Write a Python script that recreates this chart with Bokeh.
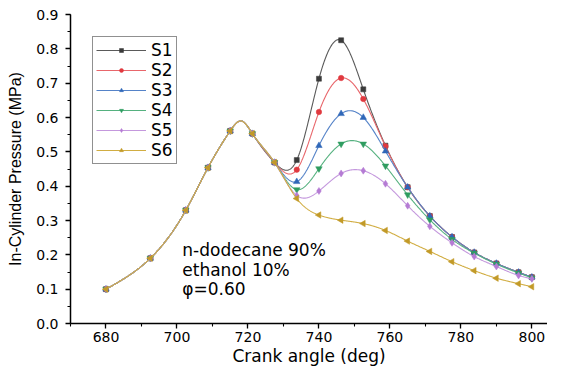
import math
import numpy as np
from bokeh.plotting import figure
from bokeh.models import (Range1d, SingleIntervalTicker, NumeralTickFormatter,
                          Label, Legend, LegendItem)
from bokeh.embed import file_html
from bokeh.resources import INLINE

# ---- data ----
crank_angle = [680, 692.5, 702.5, 708.75, 715, 721.25, 727.5, 733.75, 740, 746.25,
               752.5, 758.75, 765, 771.25, 777.5, 783.75, 790, 796.25, 800]
s1 = [0.10, 0.19, 0.33, 0.454, 0.561, 0.553, 0.469, 0.476, 0.713, 0.825,
      0.682, 0.518, 0.397, 0.313, 0.252, 0.207, 0.175, 0.149, 0.135]
s2 = [0.10, 0.19, 0.33, 0.454, 0.561, 0.553, 0.469, 0.448, 0.616, 0.715,
      0.654, 0.516, 0.397, 0.313, 0.252, 0.207, 0.175, 0.149, 0.135]
s3 = [0.10, 0.19, 0.33, 0.454, 0.561, 0.553, 0.469, 0.413, 0.518, 0.611,
      0.600, 0.502, 0.397, 0.313, 0.252, 0.207, 0.175, 0.149, 0.135]
s4 = [0.10, 0.19, 0.33, 0.454, 0.561, 0.553, 0.469, 0.390, 0.451, 0.523,
      0.523, 0.459, 0.375, 0.302, 0.245, 0.205, 0.173, 0.147, 0.133]
s5 = [0.10, 0.19, 0.33, 0.454, 0.561, 0.553, 0.469, 0.373, 0.386, 0.437,
      0.445, 0.407, 0.343, 0.283, 0.235, 0.195, 0.166, 0.140, 0.130]
s6 = [0.10, 0.19, 0.33, 0.454, 0.561, 0.553, 0.469, 0.364, 0.316, 0.301,
      0.291, 0.271, 0.240, 0.210, 0.180, 0.154, 0.132, 0.116, 0.107]
# compression peak of the curves (no marker there)
peak_angle = 718.1
peak_pressure = 0.590
series_names = ["S1", "S2", "S3", "S4", "S5", "S6"]
series_values = [s1, s2, s3, s4, s5, s6]
annotation_lines = ["n-dodecane 90%", "ethanol 10%", "φ=0.60"]
annotation_y = [0.213, 0.157, 0.100]
annotation_x = 701.5

# ---- styles ----
line_colors = ["#5a5a5a", "#e8666b", "#5583c8", "#55b17f", "#c498dd", "#d1ad42"]
marker_colors = ["#3a3a3a", "#e0393f", "#2f67b8", "#2f9d60", "#b57bd4", "#c29a28"]
markers = ["square", "circle", "triangle", "inverted_triangle", "diamond", "triangle"]
marker_sizes = [5, 5.5, 6.5, 6.5, 7, 6.5]
marker_angles = [0, 0, 0, 0, 0, math.pi / 2]
FONT = "DejaVu Sans"


def spline_line(x, y, n=900):
    """Natural cubic spline used only to draw the smooth connecting line."""
    x = np.asarray(x, float)
    y = np.asarray(y, float)
    k = len(x)
    h = np.diff(x)
    A = np.zeros((k, k))
    b = np.zeros(k)
    A[0, 0] = A[-1, -1] = 1.0
    for i in range(1, k - 1):
        A[i, i - 1] = h[i - 1]
        A[i, i] = 2 * (h[i - 1] + h[i])
        A[i, i + 1] = h[i]
        b[i] = 6 * ((y[i + 1] - y[i]) / h[i] - (y[i] - y[i - 1]) / h[i - 1])
    M = np.linalg.solve(A, b)
    t = np.linspace(x[0], x[-1], n)
    idx = np.clip(np.searchsorted(x, t) - 1, 0, k - 2)
    x0, x1 = x[idx], x[idx + 1]
    hh = x1 - x0
    out = (M[idx] * (x1 - t) ** 3 / (6 * hh) + M[idx + 1] * (t - x0) ** 3 / (6 * hh)
           + (y[idx] / hh - M[idx] * hh / 6) * (x1 - t)
           + (y[idx + 1] / hh - M[idx + 1] * hh / 6) * (t - x0))
    return t, out


p = figure(width=547, height=368, output_backend="svg", toolbar_location=None,
           x_range=Range1d(670, 804.4), y_range=Range1d(0, 0.9),
           min_border_left=70, min_border_right=0, min_border_top=14,
           min_border_bottom=43)
p.outline_line_color = None
p.xgrid.visible = False
p.ygrid.visible = False
p.background_fill_color = "white"

items = []
for name, vals, lc, mc, mk, ms, ang in zip(series_names, series_values,
                                           line_colors, marker_colors, markers,
                                           marker_sizes, marker_angles):
    lx = list(crank_angle)
    ly = list(vals)
    j = int(np.searchsorted(lx, peak_angle))
    lx.insert(j, peak_angle)
    ly.insert(j, peak_pressure)
    tx, ty = spline_line(lx, ly)
    lr = p.line(tx, ty, line_color=lc, line_width=1.1)
    sr = p.scatter(crank_angle, vals, marker=mk, size=ms, angle=ang,
                   fill_color=mc, line_color=mc, line_width=0.5)
    items.append(LegendItem(label=name, renderers=[lr, sr]))

legend = Legend(items=items, location=(22, 159), padding=3, spacing=0,
                margin=0, glyph_width=50, glyph_height=10, label_height=20,
                label_standoff=5, label_text_font=FONT, label_text_font_size="17px",
                label_text_color="black", border_line_color="#222222",
                border_line_width=1, background_fill_alpha=1.0)
p.add_layout(legend)

# axes
p.xaxis.ticker = SingleIntervalTicker(interval=20, num_minor_ticks=2)
p.yaxis.ticker = SingleIntervalTicker(interval=0.1, num_minor_ticks=2)
p.yaxis.formatter = NumeralTickFormatter(format="0.0")
for ax in (p.xaxis, p.yaxis):
    ax.axis_line_color = "black"
    ax.axis_line_width = 1.5
    ax.major_tick_line_color = "black"
    ax.major_tick_line_width = 1.3
    ax.minor_tick_line_color = "black"
    ax.minor_tick_line_width = 1.1
    ax.major_tick_in = 0
    ax.major_tick_out = 5
    ax.minor_tick_in = 0
    ax.minor_tick_out = 3
    ax.major_label_text_font = FONT
    ax.major_label_text_font_size = "14px"
    ax.major_label_text_color = "black"
    ax.axis_label_text_font_style = "normal"
    ax.axis_label_text_color = "black"

p.xaxis.axis_label = "Crank angle (deg)"
p.xaxis.axis_label_text_font = FONT
p.xaxis.axis_label_text_font_size = "17px"
p.xaxis.major_label_standoff = 3
p.xaxis.axis_label_standoff = 1

p.yaxis.axis_label = "In-Cylinder Pressure (MPa)"
p.yaxis.axis_label_text_font = "Liberation Sans"
p.yaxis.axis_label_text_font_size = "16px"
p.yaxis.major_label_standoff = 7
p.yaxis.axis_label_standoff = 9

# annotation
for txt, yy in zip(annotation_lines, annotation_y):
    p.add_layout(Label(x=annotation_x, y=yy, text=txt, text_font=FONT,
                       text_font_size="17px", text_baseline="middle",
                       text_align="left", text_color="black"))

open("out.html", "w").write(file_html(p, INLINE))
